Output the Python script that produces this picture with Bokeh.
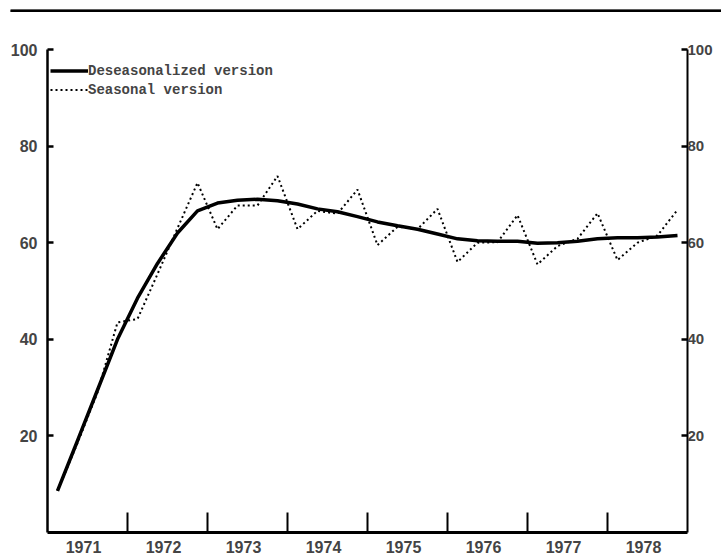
from bokeh.plotting import figure
from bokeh.models import Range1d, LinearAxis, FixedTicker, Legend, LegendItem, NumeralTickFormatter, BoxAnnotation
from bokeh.layouts import column
from bokeh.embed import file_html
from bokeh.resources import INLINE

years = [1971, 1972, 1973, 1974, 1975, 1976, 1977, 1978]
quarters = [1, 2, 3, 4]
y_ticks = [20, 40, 60, 80, 100]

seasonal = [
    8.6, 18.5, 29.0, 43.5,
    44.2, 53.5, 63.0, 72.4,
    62.8, 67.7, 67.7, 73.8,
    62.8, 66.6, 66.0, 71.0,
    59.5, 63.3, 62.8, 67.0,
    56.0, 60.0, 60.1, 65.7,
    55.5, 59.3, 60.8, 66.1,
    56.4, 60.0, 61.5, 66.8,
]
deseasonalized = [
    8.6, 19.0, 29.5, 40.0,
    48.5, 55.7, 62.0, 66.6,
    68.2, 68.8, 69.0, 68.7,
    68.0, 67.0, 66.4, 65.4,
    64.3, 63.5, 62.8, 61.8,
    60.8, 60.4, 60.3, 60.3,
    59.9, 60.0, 60.3, 60.8,
    61.0, 61.0, 61.2, 61.5,
]

t = [yr + (q - 0.5) / 4 for yr in years for q in quarters]

FONT = "Liberation Sans"

# thick rule across the top of the page: a thin strip figure whose frame is filled black
rule = figure(width=721, height=12, output_backend="svg", toolbar_location=None,
              x_range=Range1d(0, 1), y_range=Range1d(0, 1),
              x_axis_location=None, y_axis_location=None,
              min_border_top=9, min_border_bottom=0, min_border_left=10, min_border_right=0,
              background_fill_color="black", border_fill_color="white",
              outline_line_color=None, frame_align=False)
rule.grid.visible = False
rule.add_layout(BoxAnnotation(fill_color="black", fill_alpha=1, line_color=None))

p = figure(width=721, height=547, x_range=Range1d(1971, 1979), y_range=Range1d(0, 100),
           output_backend="svg", toolbar_location=None,
           x_axis_location=None, y_axis_location=None, frame_align=False,
           min_border_left=47, min_border_right=34, min_border_top=37, min_border_bottom=27)
p.outline_line_color = None
p.grid.visible = False
p.background_fill_color = "white"
p.border_fill_color = "white"

xaxis = LinearAxis(ticker=FixedTicker(ticks=[yr + 0.45 for yr in years],
                                      minor_ticks=years[1:]),
                   formatter=NumeralTickFormatter(format="0"))
xaxis.axis_line_width = 3
xaxis.major_tick_line_color = None
xaxis.major_tick_in = 0
xaxis.major_tick_out = 0
xaxis.minor_tick_in = 20
xaxis.minor_tick_out = 0
xaxis.minor_tick_line_width = 2
xaxis.major_label_standoff = 8
xaxis.major_label_text_font = FONT
xaxis.major_label_text_font_style = "bold"
xaxis.major_label_text_font_size = "16px"
p.add_layout(xaxis, "below")

for side, standoff, fsize in (("left", 10, "16px"), ("right", 0, "15px")):
    ax = LinearAxis(ticker=FixedTicker(ticks=y_ticks, minor_ticks=[]))
    ax.axis_line_width = 2.5 if side == "left" else 2
    ax.major_tick_in = 6
    ax.major_tick_out = 0
    ax.minor_tick_in = 0
    ax.minor_tick_out = 0
    ax.major_tick_line_width = 2.5
    ax.minor_tick_line_color = None
    ax.major_label_standoff = standoff
    ax.major_label_text_font = FONT
    ax.major_label_text_font_style = "bold"
    ax.major_label_text_font_size = fsize
    p.add_layout(ax, side)

r1 = p.line(t, deseasonalized, line_width=3.5, line_color="black")
r2 = p.line(t, seasonal, line_width=2, line_color="black", line_dash="2 3")

legend = Legend(items=[LegendItem(label="Deseasonalized version", renderers=[r1]),
                       LegendItem(label="Seasonal version", renderers=[r2])],
                location=(3, 433))
legend.glyph_width = 38
legend.glyph_height = 19
legend.label_height = 19
legend.label_standoff = 0
legend.spacing = 0
legend.padding = 3
legend.margin = 0
legend.border_line_color = None
legend.background_fill_alpha = 0
legend.label_text_font = "Liberation Mono"
legend.label_text_font_style = "bold"
legend.label_text_font_size = "14px"
p.add_layout(legend)

layout = column(rule, p, spacing=0)
open("out.html", "w").write(file_html(layout, INLINE))
